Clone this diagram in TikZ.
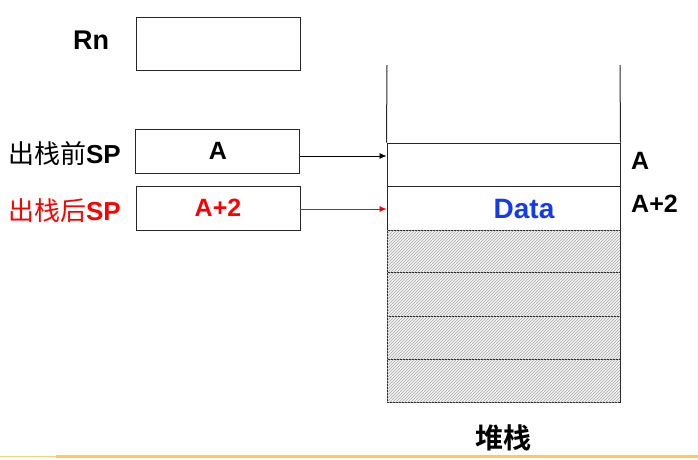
\documentclass[tikz,border=0pt]{standalone}
\usepackage{fontspec}
\setmainfont{Liberation Sans}
\newfontfamily\cjk{Noto Sans CJK SC}
\newfontfamily\cjkb{Noto Sans CJK SC Bold}
\usetikzlibrary{patterns,arrows.meta,calc}
\definecolor{myred}{RGB}{255,0,0}
\definecolor{myblue}{RGB}{20,60,230}
\definecolor{myorange}{RGB}{255,200,90}
\begin{document}
\begin{tikzpicture}[x=1pt,y=-1pt,
  reg/.style={draw=black!85,line width=0.9pt,minimum width=164pt,inner sep=0pt},
  cell/.style={draw=black!85,line width=1pt,minimum width=233pt,inner sep=0pt},
  hatch/.style={cell,fill=gray!10,postaction={pattern=north east lines,pattern color=gray!65}},
  lbl/.style={font=\bfseries,inner sep=0pt},
  arr/.style={-{Latex[length=7pt,width=6pt]},line width=0.8pt}]
\useasboundingbox (0,0) rectangle (698,459);
% registers
\node[reg,minimum height=53pt] (rn) at (218,43.5) {};
\node[reg,minimum height=44pt] (bef) at (217.5,151) {};
\node[reg,minimum height=44pt] (aft) at (218,208) {};
\node[lbl,font=\bfseries\fontsize{27}{27}\selectfont] (rnl) at (91,40) {Rn};
\node[lbl,font=\bfseries\fontsize{25}{25}\selectfont] (bv) at (218,151) {A};
\node[lbl,text=myred,font=\bfseries\fontsize{25}{25}\selectfont] (av) at (218,208) {A+2};
\node[lbl,anchor=east,font=\fontsize{26}{26}\selectfont] (bl) at (121,154) {{\cjk 出栈前}\textbf{SP}};
\node[lbl,anchor=east,text=myred,font=\fontsize{26}{26}\selectfont] (al) at (121,211) {{\cjk 出栈后}\textbf{SP}};
% stack
\node[cell,minimum height=43pt] (c1) at (503.5,164.5) {};
\node[cell,minimum height=44pt] (c2) at (503.5,208) {};
\node[hatch,minimum height=42pt] (c3) at (503.5,251) {};
\node[hatch,minimum height=44pt] (c4) at (503.5,294) {};
\node[hatch,minimum height=43pt] (c5) at (503.5,337.5) {};
\node[hatch,minimum height=43pt] (c6) at (503.5,380.5) {};
\coordinate (tl) at (387,65);
\coordinate (tr) at (620,65);
\draw[line width=1pt,black!85] (tl) -- (c1.north west);
\draw[line width=1pt,black!85] (tr) -- (c1.north east);
\node[lbl,text=myblue,font=\bfseries\fontsize{28}{28}\selectfont] (data) at (524,209) {Data};
\node[lbl,anchor=west,font=\bfseries\fontsize{25}{25}\selectfont] (ra) at (631,161) {A};
\node[lbl,anchor=west,font=\bfseries\fontsize{25}{25}\selectfont] (ra2) at (631,204) {A+2};
\node[lbl,font=\cjkb\fontsize{28}{28}\selectfont] (st) at (503,438) {堆栈};
% arrows
\draw[arr] ([yshift=-5pt]bef.east) -- ([yshift=-5pt]bef.east -| c1.west);
\draw[arr,myred] ([yshift=-1pt]aft.east) -- ([yshift=-1pt]aft.east -| c2.west);
% bottom rule
\coordinate (b0) at (0,456.5);
\coordinate (b1) at (56,456.5);
\coordinate (b2) at (698,456.5);
\draw[myorange!85,line width=1.5pt] (b0) -- (b1);
\draw[myorange,line width=2.5pt] (b1) -- (b2);
\end{tikzpicture}
\end{document}
